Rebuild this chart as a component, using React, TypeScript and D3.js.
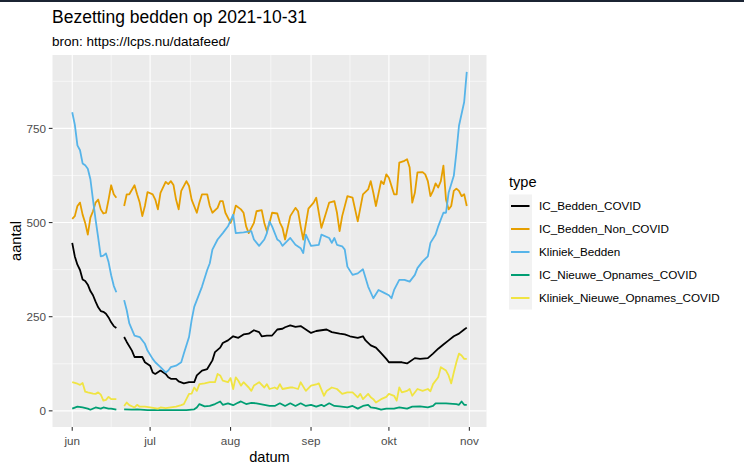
import * as d3 from "d3";

type Pt = [number, number | null];

// day offset from 2021-06-01, value (null = gap in the feed)
const icBeddenCovid: Pt[] = [
  [0,446],[1,410],[2,388],[3,374],[4,349],[5,345],[6,335],[7,318],[8,307],[9,290],[10,275],[11,265],[12,263],[13,258],[14,248],[15,235],[16,225],[17,220],[18,null],
  [20,196],[21,183],[23,160],[24,143],[27,143],[28,129],[30,120],[31,102],[32,98],[34,107],[36,98],[37,89],[38,85],[40,85],[41,78],[43,73],[45,76],[47,76],[48,94],[50,107],[52,111],[54,134],[55,156],[57,168],[58,180],[60,187],[62,198],[64,194],[66,203],[68,205],[70,214],[72,209],[73,198],[75,200],[77,200],[79,216],[81,218],[82,222],[84,227],[86,223],[88,225],[90,216],[92,207],[94,212],[96,214],[98,216],[100,209],[103,205],[105,203],[107,198],[110,194],[112,198],[113,187],[115,174],[117,168],[119,153],[121,138],[122,129],[124,129],[127,129],[129,126],[132,140],[134,138],[137,140],[139,152],[141,165],[143,176],[145,187],[147,198],[149,205],[151,216],[152,221],
];

const icBeddenNonCovid: Pt[] = [
  [0,510],[1,517],[2,544],[3,553],[4,521],[5,499],[6,468],[7,513],[8,530],[9,553],[10,561],[11,535],[12,524],[13,526],[14,561],[15,599],[16,575],[17,566],[18,null],
  [20,544],[21,575],[22,575],[24,599],[25,575],[26,553],[27,517],[28,544],[29,581],[31,575],[32,561],[33,535],[34,579],[36,608],[37,602],[38,610],[39,600],[40,561],[41,535],[42,584],[44,610],[45,597],[46,561],[48,526],[49,553],[50,575],[52,575],[53,544],[54,526],[56,539],[57,557],[58,557],[59,526],[61,499],[62,517],[63,545],[65,535],[66,526],[67,490],[68,472],[70,499],[71,530],[73,533],[74,499],[75,477],[76,499],[77,526],[79,524],[80,500],[81,486],[82,455],[84,517],[86,539],[87,530],[88,490],[89,455],[91,537],[93,553],[94,566],[96,486],[97,508],[99,553],[101,557],[102,526],[103,477],[104,517],[106,570],[108,566],[110,503],[112,575],[114,588],[115,610],[116,579],[117,544],[119,610],[120,602],[121,628],[122,619],[123,597],[124,575],[125,575],[126,659],[128,664],[129,668],[130,646],[131,553],[132,579],[133,633],[135,634],[136,628],[137,610],[138,570],[139,584],[140,604],[141,593],[142,610],[143,651],[144,561],[145,535],[146,544],[147,584],[148,590],[149,584],[150,570],[151,575],[152,544],
];

const kliniekBedden: Pt[] = [
  [0,793],[1,760],[2,705],[3,692],[4,657],[5,652],[6,643],[7,615],[8,560],[9,508],[10,460],[11,410],[12,412],[13,418],[14,395],[15,360],[16,332],[17,315],[18,null],
  [20,294],[21,267],[22,232],[24,200],[26,196],[28,178],[29,160],[31,138],[32,129],[34,116],[36,102],[37,107],[38,116],[40,120],[42,129],[43,152],[45,196],[46,241],[47,276],[49,312],[50,330],[52,374],[53,392],[54,428],[56,455],[58,472],[60,490],[62,521],[63,472],[66,474],[69,477],[70,455],[72,438],[74,455],[75,472],[76,503],[77,490],[79,455],[80,450],[81,438],[84,459],[86,441],[88,432],[89,419],[90,468],[92,438],[95,441],[96,468],[99,459],[100,446],[101,459],[102,441],[104,437],[105,428],[106,383],[108,361],[110,365],[112,376],[114,330],[116,299],[118,321],[120,314],[122,307],[123,299],[124,321],[126,348],[128,348],[130,343],[132,361],[133,379],[135,397],[137,410],[138,446],[140,468],[141,490],[142,508],[143,526],[144,526],[145,579],[147,624],[148,686],[149,757],[151,820],[152,900],
];

const icNieuweOpnames: Pt[] = [
  [0,6],[2,11],[4,9],[6,6],[7,3],[9,9],[11,6],[12,9],[14,6],[15,6],[17,3],[18,null],
  [20,4],[23,3],[25,4],[29,2],[34,2],[39,2],[44,2],[47,4],[48,9],[49,18],[51,12],[53,13],[55,18],[57,25],[58,16],[60,20],[62,15],[64,22],[65,25],[67,18],[69,21],[71,20],[74,16],[76,13],[78,13],[80,20],[82,13],[84,20],[86,13],[88,20],[90,13],[92,16],[94,11],[96,16],[97,12],[99,20],[101,13],[103,12],[106,9],[108,13],[110,6],[112,13],[114,16],[115,9],[117,7],[119,3],[121,6],[124,6],[126,9],[129,6],[131,11],[134,12],[137,9],[139,13],[140,20],[144,20],[148,18],[149,16],[150,25],[151,16],[152,16],
];

const kliniekNieuweOpnames: Pt[] = [
  [0,76],[2,72],[3,69],[4,74],[5,51],[6,49],[8,46],[9,45],[10,49],[11,43],[12,27],[13,29],[14,37],[15,31],[17,31],[18,null],
  [20,13],[21,22],[22,15],[24,9],[25,16],[26,11],[28,11],[30,9],[33,6],[34,9],[36,7],[38,9],[40,11],[42,15],[43,18],[45,45],[46,46],[47,62],[48,53],[49,71],[51,73],[53,76],[55,76],[56,98],[57,94],[58,80],[60,76],[61,87],[62,58],[63,89],[64,80],[65,67],[66,76],[68,62],[69,53],[70,67],[72,76],[74,62],[75,71],[76,58],[78,62],[79,58],[80,71],[81,58],[84,62],[85,62],[87,58],[88,76],[90,53],[92,67],[94,70],[95,73],[97,40],[98,53],[100,62],[102,58],[104,45],[106,49],[108,49],[110,36],[111,45],[112,31],[114,45],[115,36],[116,31],[117,22],[119,31],[121,37],[122,45],[124,40],[125,27],[126,62],[127,49],[129,53],[130,58],[131,40],[133,58],[135,53],[137,58],[138,52],[139,71],[141,89],[142,116],[144,107],[145,94],[146,73],[147,102],[148,129],[149,152],[150,147],[151,138],[152,138],
];

const seriesNames = ["IC_Bedden_COVID", "IC_Bedden_Non_COVID", "Kliniek_Bedden", "IC_Nieuwe_Opnames_COVID", "Kliniek_Nieuwe_Opnames_COVID"];
const seriesData = [icBeddenCovid, icBeddenNonCovid, kliniekBedden, icNieuweOpnames, kliniekNieuweOpnames];
const seriesColors = ["#000000", "#E69F00", "#56B4E9", "#009E73", "#F0E442"];

const monthLabels = ["jun", "jul", "aug", "sep", "okt", "nov"];
const yTicks = [0, 250, 500, 750];

const W = 744;
const H = 471;
const panel = { left: 52.5, right: 486.5, top: 55, bottom: 427 };
const font = "'Liberation Sans', Arial, sans-serif";

const start = Date.UTC(2021, 5, 1);
const toDate = (d: number) => new Date(start + d * 864e5);

export default function App() {
  const allDays = seriesData.flat().map((p) => p[0]);
  const allVals = seriesData.flat().filter((p) => p[1] != null).map((p) => p[1] as number);
  const [d0, d1] = d3.extent(allDays) as [number, number];
  const [v0, v1] = d3.extent(allVals) as [number, number];
  const dx = (d1 - d0) * 0.05;
  const dv = (v1 - v0) * 0.05;

  const x = d3.scaleUtc().domain([toDate(d0 - dx), toDate(d1 + dx)]).range([panel.left, panel.right]);
  const y = d3.scaleLinear().domain([v0 - dv, v1 + dv]).range([panel.bottom, panel.top]);

  const monthTicks = d3.utcMonth.range(toDate(0), toDate(154));
  const xMinor = monthTicks.slice(1).map((m, i) => new Date((m.getTime() + monthTicks[i].getTime()) / 2));
  const yMinor = yTicks.slice(1).map((t, i) => (t + yTicks[i]) / 2).concat([yTicks[yTicks.length - 1] + 125]);

  const line = d3
    .line<Pt>()
    .defined((p) => p[1] != null)
    .x((p) => x(toDate(p[0])))
    .y((p) => y(p[1] as number));

  const legendX = 509;
  const keyTop = 194.5;
  const keyH = 23;

  return (
    <svg width={W} height={H} style={{ position: "absolute", left: 0, top: 0, background: "#fff" }} fontFamily={font}>
      <rect x={0} y={0} width={W} height={2} fill="#1b2433" />
      <text x={52} y={23} fontSize={17.5} fill="#000">Bezetting bedden op 2021-10-31</text>
      <text x={52} y={46} fontSize={13.5} fill="#000">bron: https://lcps.nu/datafeed/</text>

      <rect x={panel.left} y={panel.top} width={panel.right - panel.left} height={panel.bottom - panel.top} fill="#EBEBEB" />
      {yMinor.filter((t) => y(t) > panel.top).map((t) => (
        <line key={"ym" + t} x1={panel.left} x2={panel.right} y1={y(t)} y2={y(t)} stroke="#fff" strokeWidth={0.55} />
      ))}
      {xMinor.map((t) => (
        <line key={"xm" + t.getTime()} x1={x(t)} x2={x(t)} y1={panel.top} y2={panel.bottom} stroke="#fff" strokeWidth={0.55} />
      ))}
      {yTicks.map((t) => (
        <line key={"y" + t} x1={panel.left} x2={panel.right} y1={y(t)} y2={y(t)} stroke="#fff" strokeWidth={1.1} />
      ))}
      {monthTicks.map((t) => (
        <line key={"x" + t.getTime()} x1={x(t)} x2={x(t)} y1={panel.top} y2={panel.bottom} stroke="#fff" strokeWidth={1.1} />
      ))}

      {seriesData.map((s, i) => (
        <path key={seriesNames[i]} d={line(s) ?? ""} fill="none" stroke={seriesColors[i]} strokeWidth={1.8} strokeLinejoin="round" />
      ))}

      {monthTicks.map((t, i) => (
        <g key={"xl" + i} transform={`translate(${x(t)},${panel.bottom})`}>
          <line y1={0} y2={3.7} stroke="#333" strokeWidth={1.1} />
          <text y={17.5} textAnchor="middle" fontSize={11.7} fill="#4D4D4D">{monthLabels[i]}</text>
        </g>
      ))}
      {yTicks.map((t) => (
        <g key={"yl" + t} transform={`translate(${panel.left},${y(t)})`}>
          <line x1={-3.7} x2={0} stroke="#333" strokeWidth={1.1} />
          <text x={-6.5} dy="0.35em" textAnchor="end" fontSize={11.7} fill="#4D4D4D">{t}</text>
        </g>
      ))}

      <text x={(panel.left + panel.right) / 2} y={462} textAnchor="middle" fontSize={14.6} fill="#000">datum</text>
      <text transform={`translate(21,${(panel.top + panel.bottom) / 2}) rotate(-90)`} textAnchor="middle" fontSize={14.6} fill="#000">aantal</text>

      <text x={legendX} y={187} fontSize={14.6} fill="#000">type</text>
      <rect x={legendX} y={keyTop} width={23} height={keyH * seriesNames.length} fill="#F2F2F2" />
      {seriesNames.map((n, i) => (
        <g key={"lg" + n} transform={`translate(${legendX},${keyTop + keyH * i + keyH / 2})`}>
          <line x1={2} x2={20.5} stroke={seriesColors[i]} strokeWidth={2} />
          <text x={30} dy="0.35em" fontSize={11.7} fill="#000">{n}</text>
        </g>
      ))}
    </svg>
  );
}
